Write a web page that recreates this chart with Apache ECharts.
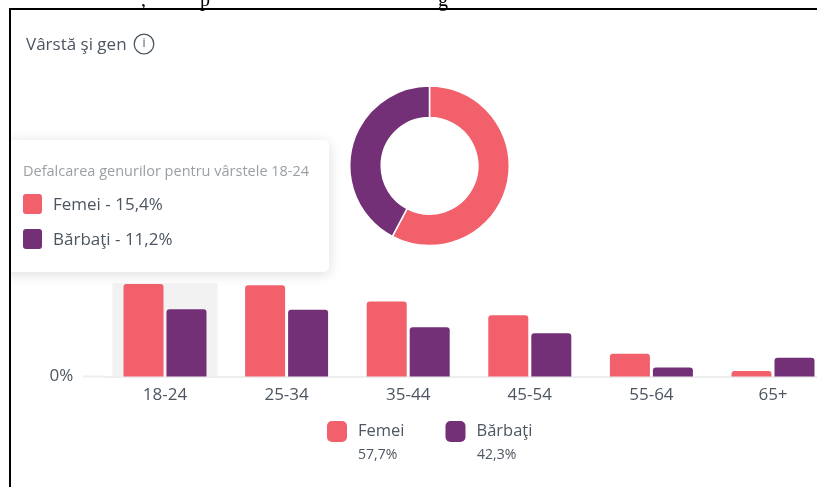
<!DOCTYPE html>
<html>
<head>
<meta charset="utf-8">
<style>html,body{margin:0;padding:0;background:#fff}#c{width:817px;height:487px}</style>
<script src="https://cdn.jsdelivr.net/npm/echarts@6/dist/echarts.min.js"></script>
</head>
<body>
<div id="c"></div>
<script>
const categories = ['18-24','25-34','35-44','45-54','55-64','65+'];
const femei = [15.4,15.2,12.5,10.2,3.8,0.9];
const barbati = [11.2,11.1,8.2,7.2,1.5,3.1];
const highlight = [15.5,null,null,null,null,null];
const totals = [57.7,42.3];
const genders = ['Femei','Bărbaţi'];
const colors = ['#f2606b','#733076'];
const FONT = '"Open Sans", sans-serif';
const TXT = '#4c5660';
const fmt = v => v.toFixed(1).replace('.', ',') + '%';

const chart = echarts.init(document.getElementById('c'), null, {renderer:'canvas'});
chart.setOption({
  animation:false,
  textStyle:{fontFamily:FONT},
  color:colors,
  legend:{
    data:genders, left:327, top:421, padding:0, itemWidth:20, itemHeight:21, itemGap:41,
    icon:'roundRect', selectedMode:false,
    textStyle:{fontFamily:FONT,fontSize:16.5,color:TXT,padding:[0,0,0,6]}
  },
  grid:{left:104.2, top:256.3, width:729.6, height:120.2, outerBoundsMode:'none'},
  xAxis:[
    {type:'category',data:categories,
     axisLine:{lineStyle:{color:'#eeeeee',width:2}},axisTick:{show:false},
     axisLabel:{fontFamily:FONT,fontSize:17,color:TXT,margin:10,interval:0}},
    {type:'category',data:categories,show:false,position:'top'}
  ],
  yAxis:{type:'value',min:0,max:20,interval:20,
    axisLine:{show:false},axisTick:{show:false},splitLine:{show:false},
    axisLabel:{fontFamily:FONT,fontSize:17,color:TXT,margin:31,padding:[2,0,0,0],
      formatter:v=>v===0?'0%':''}},
  series:[
    {type:'bar',name:'highlight',xAxisIndex:1,data:highlight,barWidth:105,z:1,silent:true,
     itemStyle:{color:'#f2f2f2'}},
    {type:'bar',name:genders[0],data:femei,barWidth:40,barGap:'7.5%',z:3,
     itemStyle:{color:colors[0],borderRadius:[3,3,0,0]}},
    {type:'bar',name:genders[1],data:barbati,barWidth:40,barGap:'7.5%',z:3,
     itemStyle:{color:colors[1],borderRadius:[3,3,0,0]}},
    {type:'pie',radius:[48.3,79.8],center:[429.5,165.8],startAngle:90,clockwise:true,
     label:{show:false},labelLine:{show:false},silent:true,
     itemStyle:{borderColor:'#fff',borderWidth:1.5},
     data:genders.map((n,i)=>({name:n,value:totals[i],itemStyle:{color:colors[i]}}))}
  ],
  graphic:[
    // baseline extension toward the 0% label
    {type:'line',shape:{x1:83,y1:376.5,x2:105,y2:376.5},style:{stroke:'#eeeeee',lineWidth:2},z:0},
    // title
    {type:'text',x:26,y:45,style:{text:'Vârstă şi gen',font:'17px '+FONT,fill:TXT,textVerticalAlign:'middle'}},
    {type:'circle',shape:{cx:144,cy:44,r:9.8},style:{fill:'none',stroke:TXT,lineWidth:1.3}},
    {type:'text',x:144,y:44,style:{text:'i',font:'12px '+FONT,fill:TXT,textAlign:'center',textVerticalAlign:'middle'}},
    // legend percentages
    {type:'text',x:358,y:455,style:{text:fmt(totals[0]),font:'14px '+FONT,fill:TXT,textVerticalAlign:'middle'}},
    {type:'text',x:477,y:455,style:{text:fmt(totals[1]),font:'14px '+FONT,fill:TXT,textVerticalAlign:'middle'}},
    // tooltip card
    {type:'rect',shape:{x:4,y:140,width:325,height:132,r:5},z:50,
     style:{fill:'#fff',shadowBlur:14,shadowColor:'rgba(0,0,0,0.14)',shadowOffsetY:2}},
    {type:'text',x:23,y:172,z:51,style:{text:'Defalcarea genurilor pentru vârstele '+categories[0],font:'14.5px '+FONT,fill:'#9a9fa4',textVerticalAlign:'middle'}},
    {type:'rect',shape:{x:23,y:194,width:19,height:20,r:3},z:51,style:{fill:colors[0]}},
    {type:'text',x:53,y:205,z:51,style:{text:genders[0]+' - '+fmt(femei[0]),font:'17px '+FONT,fill:TXT,textVerticalAlign:'middle'}},
    {type:'rect',shape:{x:23,y:229,width:19,height:20,r:3},z:51,style:{fill:colors[1]}},
    {type:'text',x:53,y:240,z:51,style:{text:genders[1]+' - '+fmt(barbati[0]),font:'17px '+FONT,fill:TXT,textVerticalAlign:'middle'}},
    // page frame
    {type:'rect',shape:{x:0,y:0,width:817,height:8},z:59,style:{fill:'#fff'}},
    {type:'rect',shape:{x:0,y:0,width:9,height:487},z:59,style:{fill:'#fff'}},
    {type:'line',shape:{x1:9,y1:9,x2:817,y2:9},z:60,style:{stroke:'#000',lineWidth:2}},
    {type:'line',shape:{x1:10,y1:8,x2:10,y2:487},z:60,style:{stroke:'#000',lineWidth:2}},
    // clipped fragments of the line of text above the frame
    {type:'text',x:141,y:-9,z:61,style:{text:',',font:'20px "Liberation Serif", serif',fill:'#000'}},
    {type:'text',x:200,y:-9,z:61,style:{text:'p',font:'20px "Liberation Serif", serif',fill:'#000'}},
    {type:'text',x:438,y:-9,z:61,style:{text:'g',font:'20px "Liberation Serif", serif',fill:'#000'}}
  ]
});
</script>
</body>
</html>
